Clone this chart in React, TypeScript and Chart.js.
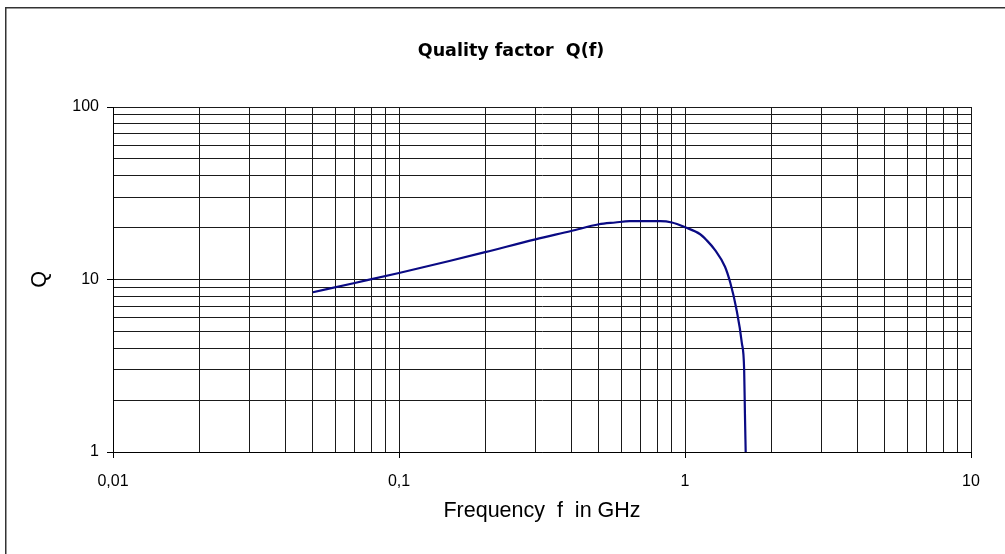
import React, { useEffect, useRef } from "react";
import { Chart, registerables } from "chart.js";

Chart.register(...registerables);

// Curve (frequency in GHz, quality factor Q)
const frequencyGHz = [0.05, 0.07, 0.1, 0.15, 0.2, 0.3, 0.4, 0.5, 0.57, 0.64, 0.82, 0.9, 1.0, 1.13, 1.19, 1.27, 1.38, 1.44, 1.51, 1.58, 1.61, 1.62, 1.63];
const qualityQ = [8.44, 9.55, 10.9, 12.8, 14.4, 17.1, 19.1, 20.9, 21.4, 21.8, 21.8, 21.4, 20.1, 18.3, 16.9, 14.9, 11.85, 9.57, 6.84, 4.29, 3.0, 1.68, 1.0];

// Grid positions (every 1..9 x decade) and labelled ticks
const xGridValues = [
  0.01, 0.02, 0.03, 0.04, 0.05, 0.06, 0.07, 0.08, 0.09,
  0.1, 0.2, 0.3, 0.4, 0.5, 0.6, 0.7, 0.8, 0.9,
  1, 2, 3, 4, 5, 6, 7, 8, 9,
  10,
];
const yGridValues = [
  1, 2, 3, 4, 5, 6, 7, 8, 9,
  10, 20, 30, 40, 50, 60, 70, 80, 90,
  100,
];
const xLabelValues = [0.01, 0.1, 1, 10];
const xLabelTexts = ["0,01", "0,1", "1", "10"];
const yLabelValues = [1, 10, 100];
const yLabelTexts = ["1", "10", "100"];

const titleText = "Quality factor  Q(f)";
const xTitleText = "Frequency  f  in GHz";
const yTitleText = "Q";

const findLabel = (values: number[], texts: string[], v: number) => {
  const i = values.findIndex((m) => Math.abs(m - v) < 1e-9 * Math.max(1, m));
  return i >= 0 ? texts[i] : "";
};

const framePlugin = {
  id: "outerFrame",
  beforeDraw(chart: any) {
    const c = chart.ctx;
    c.save();
    c.fillStyle = "#ffffff";
    c.fillRect(0, 0, chart.width, chart.height);
    c.strokeStyle = "#333333";
    c.lineWidth = 1.5;
    c.beginPath();
    c.moveTo(5.75, chart.height + 5);
    c.lineTo(5.75, 7.75);
    c.lineTo(chart.width + 5, 7.75);
    c.stroke();
    c.restore();
  },
  afterDraw(chart: any) {
    const c = chart.ctx;
    c.save();
    c.fillStyle = "#000";
    c.font = "bold 17.5px 'DejaVu Sans', sans-serif";
    c.textAlign = "center";
    c.textBaseline = "alphabetic";
    c.fillText(titleText, 511, 55.5);
    c.restore();
  },
};

export default function App() {
  const canvasRef = useRef<HTMLCanvasElement | null>(null);

  useEffect(() => {
    document.body.style.margin = "0";
    const canvas = canvasRef.current;
    if (!canvas) return;
    const tickFont = { family: "'Liberation Sans', Arial, sans-serif", size: 16 };
    const axisTitleFont = { family: "'Liberation Sans', Arial, sans-serif", size: 21.5 };
    const chart = new Chart(canvas, {
      type: "line",
      data: {
        datasets: [
          {
            data: frequencyGHz.map((f, i) => ({ x: f, y: qualityQ[i] })),
            borderColor: "#0a0a84",
            borderWidth: 2.2,
            pointRadius: 0,
            fill: false,
            cubicInterpolationMode: "monotone",
          },
        ],
      },
      options: {
        animation: false,
        responsive: false,
        devicePixelRatio: 1,
        layout: { padding: { left: 0, right: 34, top: 107, bottom: 0 } },
        plugins: {
          legend: { display: false },
          tooltip: { enabled: false },
          title: { display: false },
        },
        scales: {
          x: {
            type: "logarithmic",
            min: 0.01,
            max: 10,
            afterBuildTicks: (s: any) => {
              s.ticks = xGridValues.map((v) => ({ value: v, major: xLabelValues.includes(v) }));
            },
            afterFit: (s: any) => {
              s.height = 102;
            },
            grid: {
              color: "#1a1a1a",
              lineWidth: 1,
              tickLength: 6,
              tickColor: (ctx: any) => (ctx.tick && ctx.tick.major ? "#000" : "rgba(0,0,0,0)"),
            },
            border: { color: "#000", width: 1 },
            ticks: {
              autoSkip: false,
              maxRotation: 0,
              minRotation: 0,
              padding: 14,
              color: "#000",
              font: tickFont,
              callback: (v: any) => findLabel(xLabelValues, xLabelTexts, Number(v)),
            },
            title: {
              display: true,
              text: xTitleText,
              color: "#000",
              font: axisTitleFont,
              padding: { top: 0, bottom: 30 },
            },
          },
          y: {
            type: "logarithmic",
            min: 1,
            max: 100,
            afterBuildTicks: (s: any) => {
              s.ticks = yGridValues.map((v) => ({ value: v, major: yLabelValues.includes(v) }));
            },
            afterFit: (s: any) => {
              s.width = 113;
            },
            grid: {
              color: "#1a1a1a",
              lineWidth: 1,
              tickLength: 6,
              tickColor: (ctx: any) => (ctx.tick && ctx.tick.major ? "#000" : "rgba(0,0,0,0)"),
            },
            border: { color: "#000", width: 1 },
            ticks: {
              autoSkip: false,
              padding: 8,
              color: "#000",
              font: tickFont,
              callback: (v: any) => findLabel(yLabelValues, yLabelTexts, Number(v)),
            },
            title: {
              display: true,
              text: yTitleText,
              color: "#000",
              font: axisTitleFont,
              padding: { top: 27, bottom: 0 },
            },
          },
        },
      } as any,
      plugins: [framePlugin],
    });
    return () => chart.destroy();
  }, []);

  return (
    <div style={{ position: "absolute", left: 0, top: 0, width: 1005, height: 554 }}>
      <canvas ref={canvasRef} width={1005} height={554} style={{ display: "block" }} />
    </div>
  );
}
